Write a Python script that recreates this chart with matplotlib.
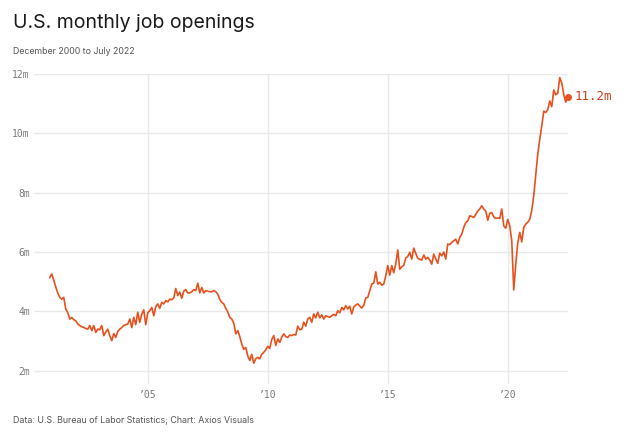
import matplotlib
matplotlib.use("Agg")
import matplotlib.pyplot as plt
import numpy as np

# Monthly job openings (millions), Dec 2000 .. Jul 2022
y2000 = [5.14]  # December only
y2001 = [5.26, 5.05, 4.82, 4.62, 4.47, 4.41, 4.47, 4.08, 3.95, 3.74, 3.79, 3.72]
y2002 = [3.68, 3.57, 3.52, 3.48, 3.46, 3.42, 3.40, 3.52, 3.35, 3.52, 3.29, 3.40]
y2003 = [3.38, 3.52, 3.18, 3.30, 3.40, 3.18, 3.01, 3.25, 3.12, 3.32, 3.40, 3.45]
y2004 = [3.52, 3.55, 3.57, 3.74, 3.45, 3.80, 3.55, 3.97, 3.63, 3.90, 4.05, 3.55]
y2005 = [3.95, 4.02, 4.13, 3.85, 4.15, 4.25, 4.10, 4.30, 4.25, 4.36, 4.32, 4.41]
y2006 = [4.39, 4.45, 4.77, 4.53, 4.65, 4.44, 4.68, 4.73, 4.62, 4.62, 4.66, 4.73]
y2007 = [4.70, 4.95, 4.62, 4.80, 4.62, 4.70, 4.68, 4.66, 4.66, 4.70, 4.66, 4.58]
y2008 = [4.40, 4.30, 4.25, 4.10, 3.98, 3.80, 3.74, 3.60, 3.24, 3.35, 3.15, 2.90]
y2009 = [2.72, 2.78, 2.50, 2.34, 2.55, 2.25, 2.40, 2.45, 2.40, 2.55, 2.62, 2.70]
y2010 = [2.82, 2.75, 3.05, 3.18, 2.85, 3.07, 2.95, 3.13, 3.24, 3.15, 3.12, 3.20]
y2011 = [3.18, 3.22, 3.20, 3.50, 3.38, 3.40, 3.63, 3.50, 3.74, 3.80, 3.63, 3.91]
y2012 = [3.78, 3.97, 3.78, 3.88, 3.74, 3.85, 3.82, 3.80, 3.85, 3.90, 3.85, 4.02]
y2013 = [3.95, 4.13, 4.05, 4.19, 4.08, 4.17, 3.91, 4.15, 4.21, 4.25, 4.18, 4.11]
y2014 = [4.20, 4.45, 4.47, 4.70, 4.92, 4.95, 5.33, 4.92, 4.98, 4.88, 4.92, 5.20]
y2015 = [5.54, 5.22, 5.54, 5.30, 5.60, 6.07, 5.42, 5.50, 5.55, 5.80, 5.85, 5.99]
y2016 = [5.76, 6.13, 5.95, 5.79, 5.75, 5.73, 5.90, 5.76, 5.82, 5.73, 5.59, 5.93]
y2017 = [5.76, 5.62, 5.96, 5.87, 6.00, 5.76, 6.27, 6.25, 6.32, 6.38, 6.43, 6.27]
y2018 = [6.49, 6.60, 6.83, 6.99, 7.05, 7.22, 7.20, 7.16, 7.27, 7.38, 7.45, 7.56]
y2019 = [7.45, 7.38, 7.07, 7.30, 7.33, 7.18, 7.13, 7.15, 7.13, 7.45, 6.88, 6.80]
y2020 = [7.10, 6.88, 6.38, 4.72, 5.59, 6.30, 6.66, 6.34, 6.83, 6.94, 7.00, 7.10]
y2021 = [7.40, 7.90, 8.60, 9.30, 9.80, 10.25, 10.75, 10.70, 10.80, 11.09, 10.90, 11.46]
y2022 = [11.30, 11.35, 11.88, 11.70, 11.30, 11.05, 11.24]

values = (y2000 + y2001 + y2002 + y2003 + y2004 + y2005 + y2006 + y2007 + y2008
          + y2009 + y2010 + y2011 + y2012 + y2013 + y2014 + y2015 + y2016
          + y2017 + y2018 + y2019 + y2020 + y2021 + y2022)
start_month = 11  # December 2000, months counted from Jan 2000
dates = 2000 + (start_month + np.arange(len(values))) / 12.0

y_ticks = [2, 4, 6, 8, 10, 12]
y_labels = ["2m", "4m", "6m", "8m", "10m", "12m"]
x_ticks = [2005, 2010, 2015, 2020]
x_labels = ["’05", "’10", "’15", "’20"]
last_label = "11.2m"

LINE = "#e8501c"
LABEL = "#d23c1c"
GRID = "#e9e9e9"
TICK = "#7a7a7a"
MONO = ["DejaVu Sans Mono"]
SANS = ["Inter", "DejaVu Sans"]

fig = plt.figure(figsize=(6.4, 4.44), dpi=100)
fig.patch.set_facecolor("white")
ax = fig.add_axes([34 / 640, 1 - 384 / 444, (568 - 34) / 640, (384 - 74) / 444])

ax.plot(dates, values, color=LINE, lw=1.2, solid_joinstyle="round", zorder=3)
ax.plot([dates[-1]], [values[-1]], "o", color=LINE, ms=4, clip_on=False, zorder=4)
ax.annotate(last_label, xy=(dates[-1], values[-1]), xytext=(5, 0),
            textcoords="offset points", va="center", ha="left",
            color=LABEL, fontsize=9, family=MONO, annotation_clip=False)

ax.set_xlim(2000.26, 2022.51)
ax.set_ylim(1.55, 12)
ax.set_yticks(y_ticks)
ax.set_yticklabels(y_labels)
ax.set_xticks(x_ticks)
ax.set_xticklabels(x_labels)
for s in ax.spines.values():
    s.set_visible(False)
ax.grid(True, color=GRID, lw=1, zorder=0)
ax.tick_params(axis="both", length=0, colors=TICK, labelsize=7)
ax.tick_params(axis="y", pad=3)
ax.tick_params(axis="x", pad=4)
for lab in ax.get_xticklabels() + ax.get_yticklabels():
    lab.set_family(MONO)

fig.text(13 / 640, 1 - 23 / 444, "U.S. monthly job openings", fontsize=14,
         family=SANS, color="#1a1a1a", va="center", ha="left")
fig.text(13 / 640, 1 - 52 / 444, "December 2000 to July 2022", fontsize=6.3,
         family=SANS, color="#555555", va="center", ha="left")
fig.text(13 / 640, 1 - 420 / 444, "Data: U.S. Bureau of Labor Statistics; Chart: Axios Visuals",
         fontsize=6.4, family=SANS, color="#555555", va="center", ha="left")

fig.savefig("out.png", dpi=100, facecolor="white")
